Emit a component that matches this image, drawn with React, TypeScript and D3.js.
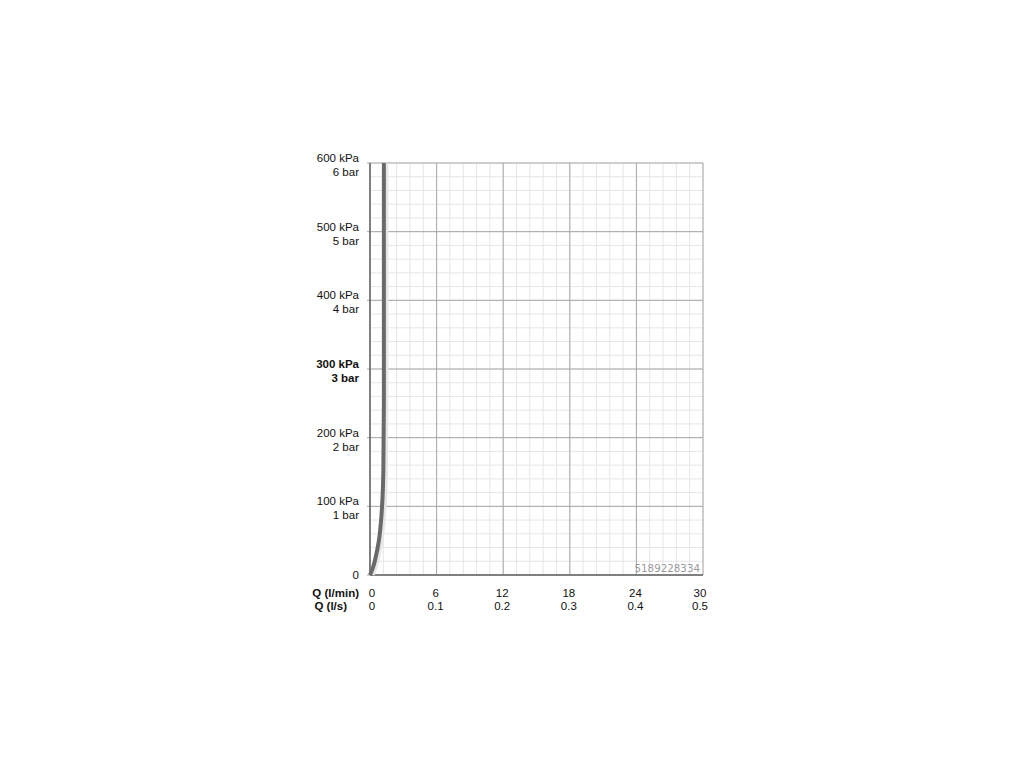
import React from "react";
import * as d3 from "d3";

const yTicksKpa = [0, 100, 200, 300, 400, 500, 600];
const yTickBar = ["", "1 bar", "2 bar", "3 bar", "4 bar", "5 bar", "6 bar"];
const xTicksLmin = [0, 6, 12, 18, 24, 30];
const xTicksLs = ["0", "0.1", "0.2", "0.3", "0.4", "0.5"];
// flow (l/min) vs pressure (kPa)
const curveQ = [0, 0.25, 0.5, 0.8, 1.0, 1.12, 1.2, 1.25, 1.25];
const curveP = [0, 10, 25, 50, 80, 110, 150, 250, 600];
const watermark = "5189228334";

export default function App() {
  const W = 1024, H = 768;
  const x = d3.scaleLinear().domain([0, 30]).range([370, 703]);
  const y = d3.scaleLinear().domain([0, 600]).range([575, 163]);
  const minorX = d3.range(0, 30.001, 1.2);
  const minorY = d3.range(0, 600.001, 20);
  const pts = curveQ.map((q, i) => [x(q), y(curveP[i])] as [number, number]);
  const line = d3.line().curve(d3.curveMonotoneY)(pts) || "";
  const font = "Liberation Sans, Arial, Helvetica, sans-serif";
  return (
    <svg width={W} height={H} style={{ position: "absolute", left: 0, top: 0 }}>
      <rect width={W} height={H} fill="#fff" />
      {minorX.map((v, i) => (
        <line key={"mx" + i} x1={x(v)} x2={x(v)} y1={y(0)} y2={y(600)} stroke="#e6e6e6" strokeWidth={1} />
      ))}
      {minorY.map((v, i) => (
        <line key={"my" + i} x1={x(0)} x2={x(30)} y1={y(v)} y2={y(v)} stroke="#e6e6e6" strokeWidth={1} />
      ))}
      {xTicksLmin.map((v, i) => (
        <line key={"Mx" + i} x1={x(v)} x2={x(v)} y1={y(0)} y2={y(600)} stroke="#a8a8a8" strokeWidth={1} />
      ))}
      {yTicksKpa.map((v, i) => (
        <line key={"My" + i} x1={x(0) - 3} x2={x(30)} y1={y(v)} y2={y(v)} stroke="#a8a8a8" strokeWidth={1} />
      ))}
      <line x1={x(0)} x2={x(0)} y1={y(0)} y2={y(600)} stroke="#555" strokeWidth={1.3} />
      <line x1={x(0)} x2={x(30)} y1={y(0)} y2={y(0)} stroke="#666" strokeWidth={1.3} />
      <path d={line} fill="none" stroke="#e6e6e6" strokeWidth={3} transform="translate(3,0)" />
      <path d={line} fill="none" stroke="#6a6a6a" strokeWidth={4} />
      <text x={700} y={572} textAnchor="end" fontFamily="DejaVu Sans, sans-serif" fontSize={10.3} fill="#9a9a9a">{watermark}</text>
      {yTicksKpa.map((v, i) => {
        const bold = v === 300;
        if (v === 0) {
          return (
            <text key={"yl" + i} x={359} y={y(v) + 4} textAnchor="end" fontFamily={font} fontSize={11.5} fill="#111">0</text>
          );
        }
        return (
          <g key={"yl" + i} fontFamily={font} fontSize={11.5} fill="#111" fontWeight={bold ? "bold" : "normal"} textAnchor="end">
            <text x={359} y={y(v) - 1}>{v + " kPa"}</text>
            <text x={359} y={y(v) + 13}>{yTickBar[i]}</text>
          </g>
        );
      })}
      <text x={359} y={597} textAnchor="end" fontFamily={font} fontSize={11.5} fontWeight="bold" fill="#111">Q (l/min)</text>
      <text x={347} y={610} textAnchor="end" fontFamily={font} fontSize={11.5} fontWeight="bold" fill="#111">Q (l/s)</text>
      {xTicksLmin.map((v, i) => (
        <g key={"xl" + i} fontFamily={font} fontSize={11.5} fill="#111" textAnchor="middle">
          <text x={x(v) + (i === 0 ? 2 : i === 5 ? -3 : -1)} y={597}>{v}</text>
          <text x={x(v) + (i === 0 ? 2 : i === 5 ? -3 : -1)} y={610}>{xTicksLs[i]}</text>
        </g>
      ))}
    </svg>
  );
}
